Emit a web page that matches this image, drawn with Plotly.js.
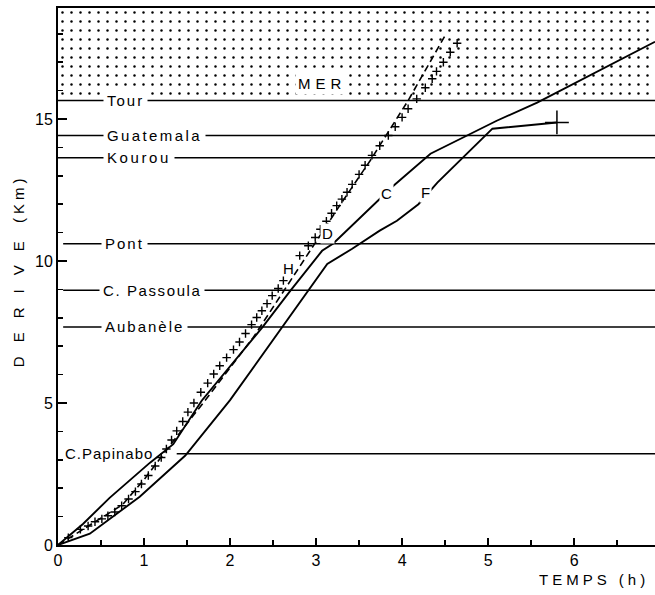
<!DOCTYPE html>
<html><head><meta charset="utf-8">
<script src="https://cdn.plot.ly/plotly-3.0.1.min.js"></script>
<style>html,body{margin:0;padding:0;background:#fff}#chart{width:655px;height:595px}</style>
</head><body><div id="chart"></div>
<script>
// ---------- data ----------
const stationNames  = ["Tour","Guatemala","Kourou","Pont","C. Passoula","Aubanèle","C.Papinabo"];
const stationLevels = [15.65, 14.42, 13.64, 10.61, 8.97, 7.68, 3.21];

const crossT = [0.12,0.26,0.35,0.43,0.51,0.58,0.66,0.74,0.82,0.90,0.97,1.05,1.13,1.20,1.26,1.32,1.38,1.45,1.51,1.58,1.66,1.74,1.81,1.88,1.96,2.04,2.11,2.18,2.25,2.31,2.37,2.43,2.49,2.56,2.62,2.81,2.91,2.99,3.05,3.12,3.18,3.24,3.30,3.36,3.42,3.50,3.57,3.65,3.74,3.84,3.92,4.00,4.07,4.17,4.27,4.35,4.40,4.48,4.56,4.64];
const crossY = [0.26,0.55,0.67,0.82,0.92,1.03,1.16,1.38,1.62,1.88,2.15,2.45,2.78,3.08,3.38,3.70,4.02,4.35,4.68,5.00,5.38,5.70,6.02,6.31,6.60,6.88,7.15,7.45,7.76,8.01,8.25,8.50,8.78,9.03,9.31,10.19,10.54,10.83,11.12,11.40,11.68,11.95,12.18,12.42,12.70,13.05,13.37,13.72,14.06,14.42,14.73,15.06,15.36,15.71,16.10,16.42,16.68,17.00,17.35,17.67];

const dashT = [0, 0.40, 0.75, 1.00, 1.30, 1.70, 2.27, 3.30, 3.63, 4.07, 4.50];
const dashY = [0, 0.75, 1.42, 2.30, 3.50, 5.05, 7.31, 12.07, 13.54, 15.65, 17.94];

const curveCT = [0, 0.29, 0.60, 1.07, 1.34, 1.67, 2.38, 2.70, 3.07, 3.20, 3.90, 4.33, 5.10, 5.57, 6.94];
const curveCY = [0, 0.74, 1.66, 2.90, 3.55, 5.08, 7.68, 8.95, 10.36, 10.62, 12.65, 13.78, 14.94, 15.58, 17.72];

const curveFT = [0, 0.37, 0.95, 1.48, 2.00, 2.61, 3.13, 3.42, 3.74, 3.94, 4.19, 4.41, 5.05, 5.80];
const curveFY = [0, 0.40, 1.70, 3.15, 5.10, 7.68, 9.90, 10.43, 11.07, 11.42, 12.00, 12.76, 14.66, 14.88];

const curveLabels = ["H","D","C","F"];

// ---------- layout helpers ----------
const X_MAX = 6.94, Y_MAX = 18.91;
const FONT = "Liberation Sans, Arial, sans-serif";
const lineStartX   = [0, 0, 0, 0.06, 0.06, 0.06, 1.38];
const labelBoxX    = [0.52, 0.52, 0.52, 0.50, 0.48, 0.50, 0.03];
const labelSpacing = [2, 2.4, 2.6, 2, 1.6, 2, 1];
const curveLabelX  = [2.68, 3.13, 3.82, 4.27];
const curveLabelY  = [9.73, 10.97, 12.38, 12.40];
const curveLabelBg = ["rgba(0,0,0,0)", "white", "white", "white"];

const traces = [];
// sea (stippled zone above Tour level)
const seaLevel = stationLevels[0];
traces.push({
  x: [0, X_MAX, X_MAX, 0, 0], y: [seaLevel, seaLevel, Y_MAX, Y_MAX, seaLevel],
  mode: "lines", line: {width: 0, color: "rgba(0,0,0,0)"},
  fill: "toself", fillcolor: "white",
  fillpattern: {shape: ".", size: 9, solidity: 0.06, fgcolor: "black", bgcolor: "white"},
  hoverinfo: "skip", showlegend: false
});
// station lines
const sx = [], sy = [];
stationLevels.forEach((lv, i) => { sx.push(lineStartX[i], X_MAX, null); sy.push(lv, lv, null); });
traces.push({x: sx, y: sy, mode: "lines", line: {color: "black", width: 1.5}, showlegend: false});
// curves
traces.push({x: curveCT, y: curveCY, mode: "lines", line: {color: "black", width: 1.9}, showlegend: false});
traces.push({x: curveFT, y: curveFY, mode: "lines", line: {color: "black", width: 1.9}, showlegend: false});
traces.push({x: [curveFT[curveFT.length-1]], y: [curveFY[curveFY.length-1]], mode: "markers",
  marker: {symbol: "cross-thin", size: 17, line: {color: "black", width: 1.5}}, showlegend: false});
traces.push({x: dashT, y: dashY, mode: "lines", line: {color: "black", width: 1.6, dash: "7px,4px"}, showlegend: false});
traces.push({x: crossT, y: crossY, mode: "markers",
  marker: {symbol: "cross-thin", size: 6, line: {color: "black", width: 1.4}}, showlegend: false});

const annotations = [];
stationNames.forEach((n, i) => {
  annotations.push({
    x: labelBoxX[i], y: stationLevels[i], xref: "x", yref: "y", xanchor: "left", yanchor: "middle",
    text: '<span style="letter-spacing:' + labelSpacing[i] + 'px">' + n + '</span>', showarrow: false,
    font: {family: FONT, size: 15, color: "black"},
    bgcolor: i === stationNames.length - 1 ? "rgba(0,0,0,0)" : "white", borderpad: 3
  });
});
curveLabels.forEach((t, i) => {
  annotations.push({x: curveLabelX[i], y: curveLabelY[i], xref: "x", yref: "y", text: t,
    showarrow: false, font: {family: FONT, size: 15, color: "black"},
    bgcolor: curveLabelBg[i], borderpad: 1});
});
annotations.push({x: 3.07, y: 16.25, xref: "x", yref: "y", showarrow: false,
  text: '<span style="letter-spacing:5px">MER</span>', font: {family: FONT, size: 15, color: "black"},
  bgcolor: "white", borderpad: 2});
annotations.push({x: 0, xref: "paper", xshift: -40, y: 0.51, yref: "paper", textangle: -90,
  showarrow: false, xanchor: "center", yanchor: "middle",
  text: '<span style="letter-spacing:14px">DERIVE</span> <span style="letter-spacing:4px">(Km)</span>',
  font: {family: FONT, size: 15, color: "black"}});
annotations.push({x: 1, xref: "paper", xanchor: "right", xshift: -4, y: 0, yref: "paper", yanchor: "top", yshift: -24,
  showarrow: false, text: '<span style="letter-spacing:4px">TEMPS (h)</span>',
  font: {family: FONT, size: 15, color: "black"}});

const layout = {
  width: 655, height: 595,
  margin: {l: 58, r: 0, t: 8, b: 50},
  paper_bgcolor: "white", plot_bgcolor: "white",
  showlegend: false,
  xaxis: {range: [0, X_MAX], showgrid: false, zeroline: false,
    showline: true, linecolor: "black", linewidth: 2, mirror: true,
    tickmode: "linear", tick0: 0, dtick: 1, ticks: "inside", ticklen: 7, tickwidth: 1.5, tickcolor: "black",
    minor: {dtick: 0.5, ticks: "inside", ticklen: 5, tickwidth: 1.5, tickcolor: "black", showgrid: false},
    tickfont: {family: FONT, size: 16, color: "black"}},
  yaxis: {range: [0, Y_MAX], showgrid: false, zeroline: false,
    showline: true, linecolor: "black", linewidth: 2,
    tickmode: "array", tickvals: [0, 5, 10, 15], ticks: "inside", ticklen: 9, tickwidth: 1.5, tickcolor: "black",
    minor: {dtick: 1, ticks: "inside", ticklen: 5, tickwidth: 1.5, tickcolor: "black", showgrid: false},
    tickfont: {family: FONT, size: 16, color: "black"}},
  annotations: annotations
};
Plotly.newPlot("chart", traces, layout, {staticPlot: true, displayModeBar: false});
</script></body></html>
